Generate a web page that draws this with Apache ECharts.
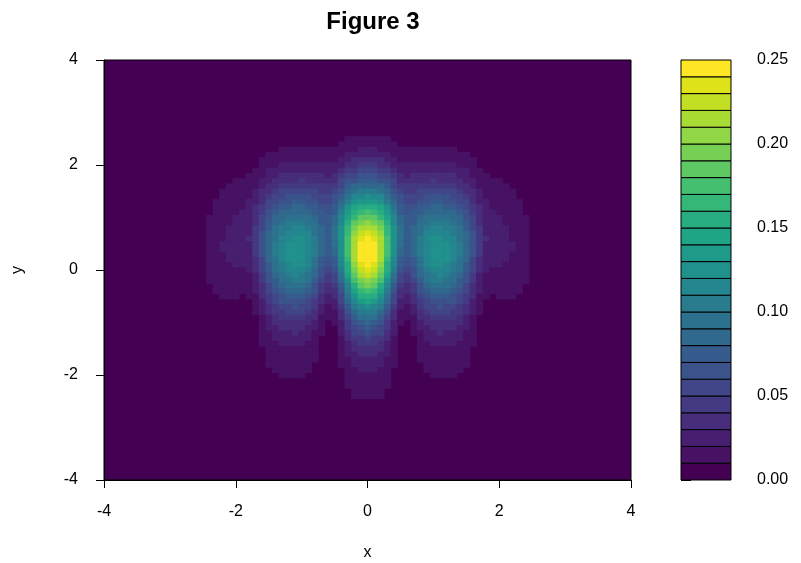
<!DOCTYPE html>
<html><head><meta charset="utf-8">
<script src="https://cdn.jsdelivr.net/npm/echarts@6/dist/echarts.min.js"></script>
<style>html,body{margin:0;padding:0;background:#fff}#c{width:801px;height:563px}</style>
</head><body><div id="c"></div>
<script>
// Contour band colours (viridis, 25 bands of width 0.01 from 0.00 to 0.25)
const bandColors=['#440154','#471164','#481f70','#472d7b','#443a83','#404688','#3b528b','#365c8d','#31688e','#2c728e','#287c8e','#24868e','#21918c','#1f9a8a','#20a486','#27ad81','#35b779','#44bf70','#5ec962','#75d054','#8fd744','#a8db34','#c2df23','#dde318','#fde725'];
const bandLower=[0.00,0.01,0.02,0.03,0.04,0.05,0.06,0.07,0.08,0.09,0.10,0.11,0.12,0.13,0.14,0.15,0.16,0.17,0.18,0.19,0.20,0.21,0.22,0.23,0.24];
const bandWidth=0.01;
const colorbarTicks=[0,0.05,0.10,0.15,0.20,0.25];
const axisTicks=[-4,-2,0,2,4];
// grid of x centres (step 0.1)
const xValues=[-2.8,-2.7,-2.6,-2.5,-2.4,-2.3,-2.2,-2.1,-2.0,-1.9,-1.8,-1.7,-1.6,-1.5,-1.4,-1.3,-1.2,-1.1,-1.0,-0.9,-0.8,-0.7,-0.6,-0.5,-0.4,-0.3,-0.2,-0.1,0.0,0.1,0.2,0.3,0.4,0.5,0.6,0.7,0.8,0.9,1.0,1.1,1.2,1.3,1.4,1.5,1.6,1.7,1.8,1.9,2.0,2.1,2.2,2.3,2.4,2.5,2.6,2.7,2.8];
const yValues=[2.5,2.4,2.3,2.2,2.1,2.0,1.9,1.8,1.7,1.6,1.5,1.4,1.3,1.2,1.1,1.0,0.9,0.8,0.7,0.6,0.5,0.4,0.3,0.2,0.1,0.0,-0.1,-0.2,-0.3,-0.4,-0.5,-0.6,-0.7,-0.8,-0.9,-1.0,-1.1,-1.2,-1.3,-1.4,-1.5,-1.6,-1.7,-1.8,-1.9,-2.0,-2.1,-2.2,-2.3,-2.4];
// Density band per cell (char: '.'=0, '1'-'9'=1-9, 'a'-'o'=10-24), each row centred on x=0
const bandCode='.123456789abcdefghijklmno';
const densityRows=[
"1111111",
"111111111",
"111111111111222111111111111",
"1111111111112222222111111111111",
"111111111111223333322111111111111",
"111222222222233444332222222222111",
"11222222222223445554432222222222211",
"1112233333332345566655432333333322111",
"11112233334333335667776653333343333221111",
"1111123344444444457888887544444444433211111",
"111112334555555445689aaa986544555555433211111",
"11111234556666555679bbcbb97655566665543211111",
"11111223556677665568acdddca86556677665532211111",
"11111234567788776679cefffec97667788776543211111",
"1111223467888887767adfghgfda7677888887643221111",
"11112223568899998778begiiigeb87789999886532221111",
"111122235789aaa99778bfijkjifb87799aaa987532221111",
"11122224579aabba9879cgjllljgc9789abbaa97542222111",
"11122224689abbbb9879cgkmnmkgc9789bbbba98642222111",
"11122234689bbccba879chlnonlhc978abccbb98643222111",
"1122222468abcccba879chlooolhc978abcccba8642222211",
"1122222468abcccba878chlooolhc878abcccba8642222211",
"1112222468abcccba878chlooolhc878abcccba8642222111",
"11122223589bcccb9767bglooolgb7679bcccb98532222111",
"11112223579abccb9767bfknonkfb7679bccba97532221111",
"11111123579abbba8656afjmnmjfa6568abbba97532111111",
"111111124689aba986459eilmlie954689aba986421111111",
"1111111246799aa975458chjkjhc854579aa9976421111111",
"11111123578999864347bfijifb74346899987532111111",
"11111123567888764336aeghgea63346788876532111111",
"111.1134567776532359cfffc9532356777654311.111",
"124566665432258bdedb852234566665421",
"123455655421247abcba742124556554321",
"1234455543211368aaa8631123455544321",
"123444433111357999753111334444321",
"1233333321.12467876421.1233333321",
"1223333221..245676542..1223333221",
"1122232211..235565532..1122322211",
"112222221...134454431...122222211",
"111222211...123444321...112222111",
"11111111...123333321...11111111",
"11111111...122333221...11111111",
"11111111...112222211...11111111",
"1111111....112222211....1111111",
"111111.....1122211.....111111",
"1111......1111111......1111",
"1111111",
"1111111",
"11111",
"11111"];
const cells=[];
densityRows.forEach((row,r)=>{
  const off=Math.floor((xValues.length-row.length)/2);
  for(let i=0;i<row.length;i++){const b=bandCode.indexOf(row[i]);if(b>0&&xValues[off+i]!==undefined)cells.push([xValues[off+i],yValues[r],b]);}
});
const half=0.05;
const chart=echarts.init(document.getElementById('c'));
const axisTxt={color:'#000',fontSize:16,fontFamily:'Liberation Sans'};
chart.setOption({
 animation:false,
 title:{text:'Figure 3',left:368,top:5,textAlign:'center',textStyle:{fontFamily:'Liberation Sans',fontWeight:'bold',fontSize:24,color:'#000'}},
 grid:[{left:104,top:60,width:527,height:420,show:true,backgroundColor:bandColors[0],borderColor:'#000',borderWidth:1,outerBoundsMode:'none',containLabel:false},
       {left:681,top:60,width:50,height:420,show:false,outerBoundsMode:'none',containLabel:false}],
 xAxis:[{gridIndex:0,type:'value',min:axisTicks[0],max:axisTicks[axisTicks.length-1],interval:2,name:'x',nameLocation:'middle',nameGap:65,nameTextStyle:axisTxt,
   axisLine:{onZero:false,lineStyle:{color:'#000'}},axisTick:{length:8,lineStyle:{color:'#000'}},axisLabel:Object.assign({margin:24},axisTxt),splitLine:{show:false}},
  {gridIndex:1,type:'value',min:0,max:1,show:false,axisLine:{show:false},axisTick:{show:false},axisLabel:{show:false},splitLine:{show:false}}],
 yAxis:[{gridIndex:0,type:'value',min:axisTicks[0],max:axisTicks[axisTicks.length-1],interval:2,name:'y',nameLocation:'middle',nameGap:78,nameRotate:90,nameTextStyle:axisTxt,
   axisLine:{onZero:false,lineStyle:{color:'#000'}},axisTick:{length:8,lineStyle:{color:'#000'}},axisLabel:Object.assign({margin:26},axisTxt),splitLine:{show:false}},
  {gridIndex:1,type:'value',min:colorbarTicks[0],max:colorbarTicks[colorbarTicks.length-1],interval:0.05,position:'right',
   axisLine:{show:true,lineStyle:{color:'#000'}},axisTick:{show:true,length:10,lineStyle:{color:'#000'}},
   axisLabel:Object.assign({margin:26,formatter:v=>v.toFixed(2)},axisTxt),splitLine:{show:false}}],
 series:[
  {type:'custom',xAxisIndex:0,yAxisIndex:0,data:cells,clip:true,renderItem:(p,api)=>{
    const x=api.value(0),y=api.value(1),b=api.value(2);
    const a=api.coord([x-half,y+half]),c=api.coord([x+half,y-half]);
    return {type:'rect',shape:{x:a[0],y:a[1],width:c[0]-a[0]+0.6,height:c[1]-a[1]+0.6},style:{fill:bandColors[b]}};}},
  {type:'custom',xAxisIndex:1,yAxisIndex:1,data:bandLower.map((l,i)=>[l,i]),renderItem:(p,api)=>{
    const l=api.value(0),i=api.value(1);
    const a=api.coord([0,l+bandWidth]),c=api.coord([1,l]);
    return {type:'rect',shape:{x:a[0],y:a[1],width:c[0]-a[0],height:c[1]-a[1]},style:{fill:bandColors[i],stroke:'#000',lineWidth:1}};}}
 ]
});
</script></body></html>
